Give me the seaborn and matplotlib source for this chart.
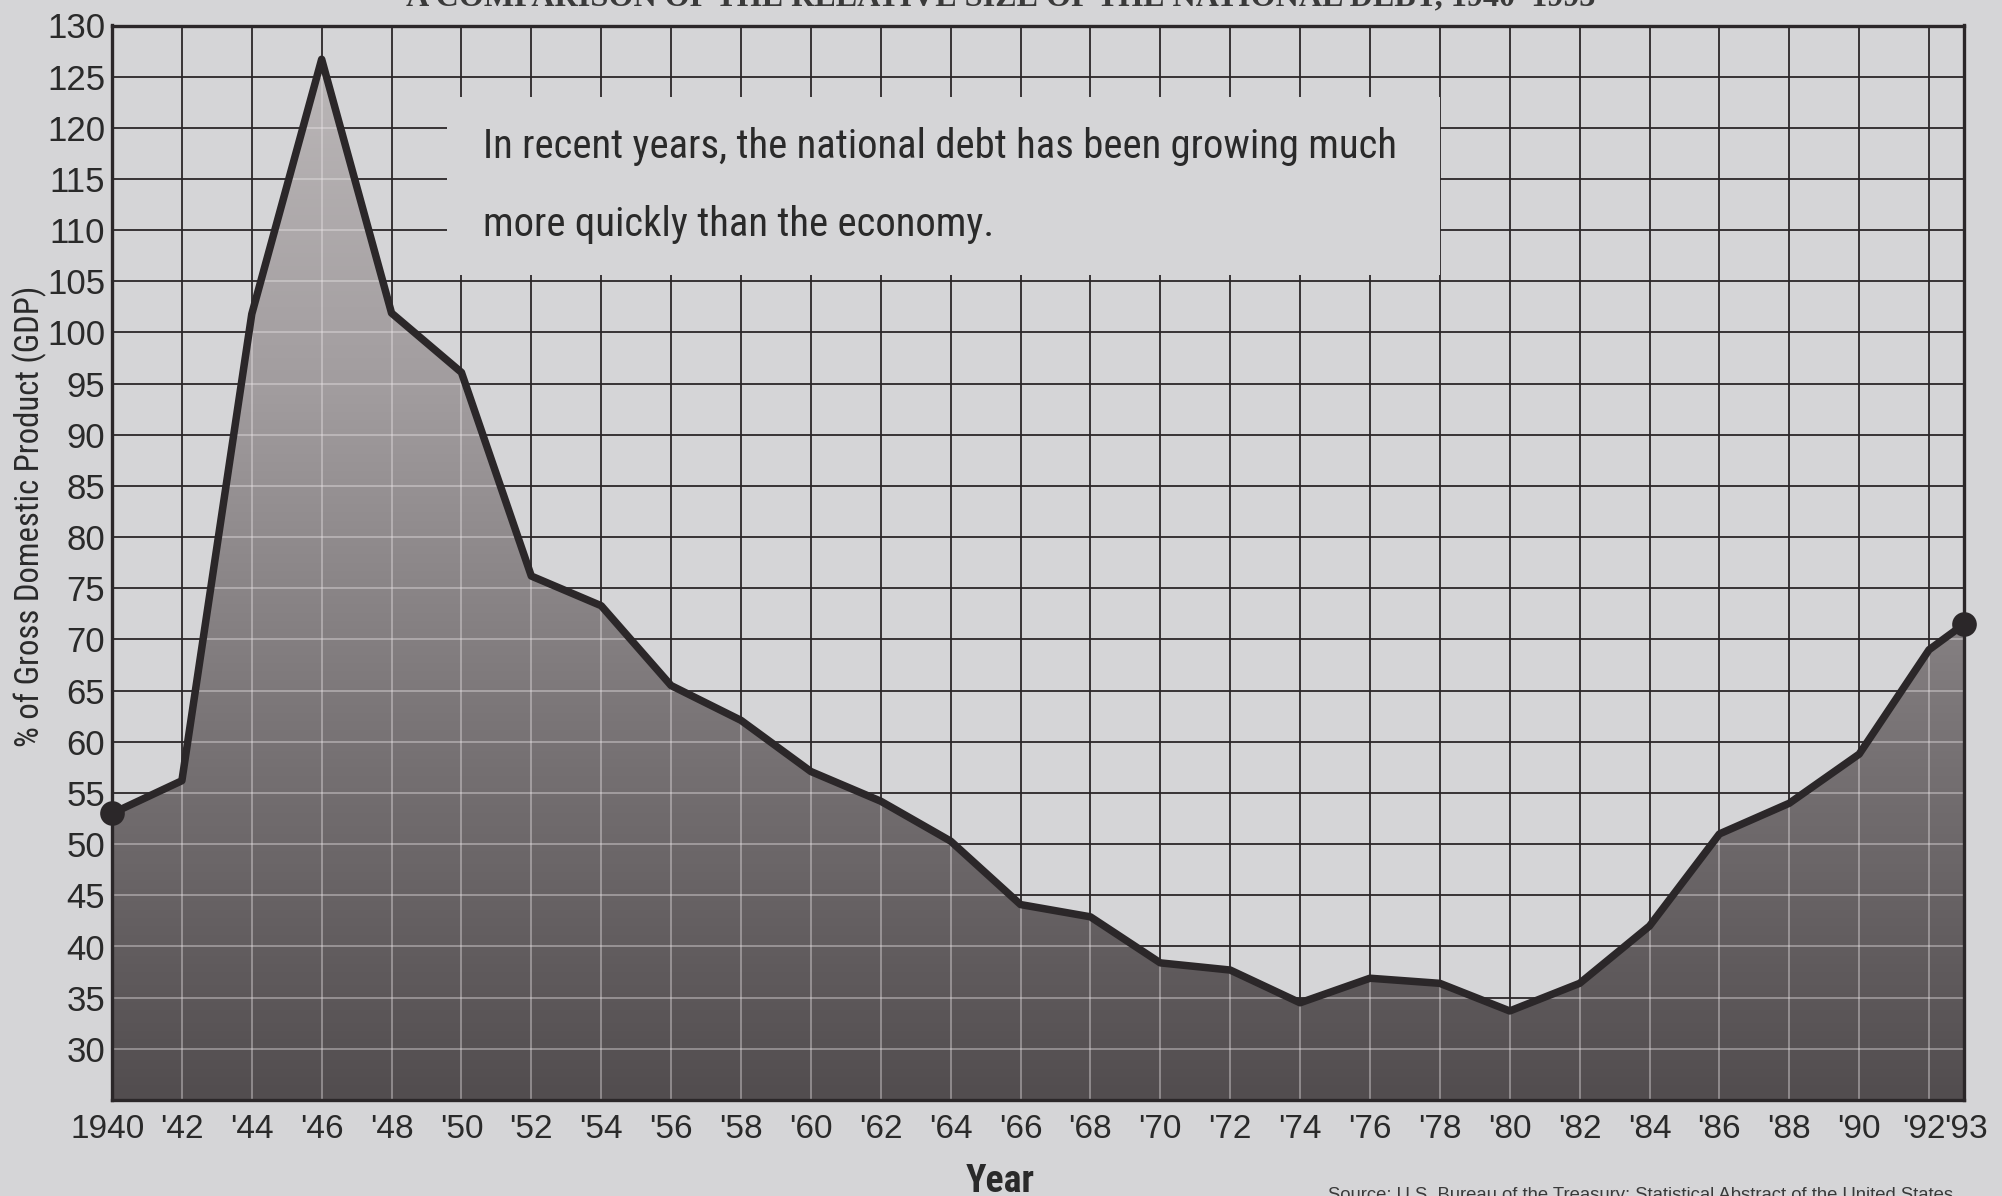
import numpy as np
import pandas as pd
import matplotlib
matplotlib.use("Agg")
import matplotlib.pyplot as plt
import seaborn as sns
from matplotlib import font_manager as fm
from matplotlib.font_manager import FontProperties
from matplotlib.patches import Polygon, Rectangle
from matplotlib.colors import LinearSegmentedColormap
from matplotlib.transforms import ScaledTranslation

# ---------------- data ----------------
years = [1940, 1942, 1944, 1946, 1948, 1950, 1952, 1954, 1956, 1958, 1960, 1962,
         1964, 1966, 1968, 1970, 1972, 1974, 1976, 1978, 1980, 1982, 1984, 1986,
         1988, 1990, 1992, 1993]
debt_pct_gdp = [53.0, 56.2, 101.8, 126.7, 101.9, 96.1, 76.2, 73.3, 65.5, 62.1, 57.1, 54.2,
                50.3, 44.1, 42.9, 38.4, 37.7, 34.5, 36.9, 36.4, 33.7, 36.4, 42.0, 51.0,
                54.0, 58.8, 69.0, 71.5]
x_ticks = [1940, 1942, 1944, 1946, 1948, 1950, 1952, 1954, 1956, 1958, 1960, 1962,
           1964, 1966, 1968, 1970, 1972, 1974, 1976, 1978, 1980, 1982, 1984, 1986,
           1988, 1990, 1992, 1993]
x_tick_labels = ["1940", "'42", "'44", "'46", "'48", "'50", "'52", "'54", "'56", "'58",
                 "'60", "'62", "'64", "'66", "'68", "'70", "'72", "'74", "'76", "'78",
                 "'80", "'82", "'84", "'86", "'88", "'90", "'92", "'93"]
y_ticks = [30, 35, 40, 45, 50, 55, 60, 65, 70, 75, 80, 85, 90, 95, 100, 105, 110,
           115, 120, 125, 130]
title_text = "A COMPARISON OF THE RELATIVE SIZE OF THE NATIONAL DEBT, 1940\u20131993"
note_lines = ["In recent years, the national debt has been growing much",
              "more quickly than the economy."]
y_label = "% of Gross Domestic Product (GDP)"
x_label = "Year"
source_text = "Source: U.S. Bureau of the Treasury; Statistical Abstract of the United States"

df = pd.DataFrame({"year": years, "pct": debt_pct_gdp})

# ---------------- style ----------------
BG = "#d5d5d7"
INK = "#2b2729"
TXT = "#2a2a2a"
sns.set_theme(style="white")
names = {f.name for f in fm.fontManager.ttflist}
regular = "Liberation Sans" if "Liberation Sans" in names else "DejaVu Sans"
serif = "Liberation Serif" if "Liberation Serif" in names else "DejaVu Serif"
plt.rcParams["font.family"] = [regular, "DejaVu Sans"]


def narrow_font(bold=False):
    for nm in ["Liberation Sans Narrow", "Arial Narrow", "Roboto Condensed",
               "Open Sans Condensed", "DejaVu Sans Condensed"]:
        if nm in names:
            return FontProperties(family=nm, weight="bold" if bold else "normal")
    cands = []
    for f in fm.fontManager.ttflist:
        fn = f.fname.lower()
        if ("condensed" in fn or "narrow" in fn) and "italic" not in fn and "oblique" not in fn:
            isbold = "bold" in fn
            if isbold == bold and "light" not in fn and "semi" not in fn and "extra" not in fn:
                cands.append(f.fname)
    if cands:
        cands.sort(key=len)
        return FontProperties(fname=cands[0])
    return FontProperties(family=regular, weight="bold" if bold else "normal")


nf = narrow_font(False)
nfb = narrow_font(True)

fig = plt.figure(figsize=(20.02, 11.96), dpi=100, facecolor=BG)
ax = fig.add_axes([112 / 2002, 96 / 1196, (1964 - 112) / 2002, (1170.5 - 96) / 1196])
ax.set_facecolor(BG)
ax.set_xlim(1940, 1993)
ax.set_ylim(25, 130)

# black grid
ax.set_xticks(x_ticks)
ax.set_xticklabels(x_tick_labels)
ax.set_yticks(y_ticks)
ax.grid(True, color=INK, linewidth=1.3, zorder=1)
ax.set_axisbelow(True)

# annotation box (covers grid)
ax.add_patch(Rectangle((1949.6, 105.6), 1978.0 - 1949.6, 123.0 - 105.6,
                       facecolor=BG, edgecolor="none", zorder=1.5))

# gradient fill under the curve
poly_xy = np.column_stack([[years[0]] + years + [years[-1]],
                           [25] + debt_pct_gdp + [25]])
poly = Polygon(poly_xy, closed=True, facecolor="none", edgecolor="none")
ax.add_patch(poly)
cmap = LinearSegmentedColormap.from_list("fillgrad", ["#524d4f", "#787375", "#a29d9f", "#bdb9ba"])
grad = np.linspace(0, 1, 256).reshape(-1, 1)
img = ax.imshow(grad, extent=[1940, 1993, 25, 130], origin="lower", aspect="auto",
                cmap=cmap, zorder=2, interpolation="bilinear")
img.set_clip_path(poly)

# light grid inside the fill
vl = ax.vlines(x_ticks, 25, 130, colors="#ece7e9", linewidth=1.1, alpha=0.5, zorder=3)
hl = ax.hlines(y_ticks, 1940, 1993, colors="#ece7e9", linewidth=1.1, alpha=0.5, zorder=3)
vl.set_clip_path(poly)
hl.set_clip_path(poly)

# line and end markers
sns.lineplot(data=df, x="year", y="pct", ax=ax, color=INK, linewidth=5.4,
             zorder=5)
ends = df.iloc[[0, -1]]
sns.scatterplot(data=ends, x="year", y="pct", ax=ax, color=INK, s=270,
                edgecolor=INK, zorder=6, clip_on=False)

# spines
for sp in ax.spines.values():
    sp.set_visible(True)
    sp.set_color(INK)
    sp.set_linewidth(2.4)
    sp.set_zorder(7)

ax.tick_params(axis="both", length=0)
ax.tick_params(axis="y", pad=5, labelsize=25, labelcolor=TXT)
ax.tick_params(axis="x", pad=10, labelsize=24, labelcolor=TXT)
ax.set_xlabel("")
ax.set_ylabel("")
xl = ax.get_xticklabels()
xl[0].set_transform(xl[0].get_transform() + ScaledTranslation(-4 / 100, 0, fig.dpi_scale_trans))
xl[-2].set_transform(xl[-2].get_transform() + ScaledTranslation(-5 / 100, 0, fig.dpi_scale_trans))
xl[-1].set_transform(xl[-1].get_transform() + ScaledTranslation(2 / 100, 0, fig.dpi_scale_trans))

# texts
t_ylab = fig.text(30 / 2002, 1 - 516 / 1196, y_label, rotation=90, ha="center", va="center",
                  fontproperties=nf, fontsize=23, color=TXT)
t_xlab = fig.text(1000 / 2002, 1 - 1163 / 1196, x_label, ha="center", va="top",
                  fontproperties=nfb, fontsize=25, color=TXT)
t_title = fig.text(0.5, 1 - 5 / 1196, title_text, ha="center", va="baseline",
                   fontsize=19, fontweight="bold", family=[serif, "DejaVu Serif"], color="#3a3a3a")
t_src = fig.text(1328 / 2002, 1 - 1187 / 1196, source_text, ha="left", va="top",
                 fontsize=15, family=[regular, "DejaVu Sans"], color="#3a3a3a")
t_n1 = ax.text(1950.62, 117.1, note_lines[0], ha="left", va="baseline", fontproperties=nf,
               fontsize=34, color=TXT, zorder=4)
t_n2 = ax.text(1950.62, 109.4, note_lines[1], ha="left", va="baseline", fontproperties=nf,
               fontsize=34, color=TXT, zorder=4)

# fit text sizes to the reference extents (pixels)
fig.canvas.draw()
r = fig.canvas.get_renderer()


def fit(t, target, horiz=True):
    bb = t.get_window_extent(r)
    size = bb.width if horiz else bb.height
    if size > 0:
        t.set_fontsize(t.get_fontsize() * target / size)


fit(t_n1, 916)
t_n2.set_fontsize(t_n1.get_fontsize())
fit(t_ylab, 463, horiz=False)
fit(t_xlab, 69)
fit(t_title, 1188)
fit(t_src, 630)

fig.savefig("out.png", dpi=100, facecolor=BG)
